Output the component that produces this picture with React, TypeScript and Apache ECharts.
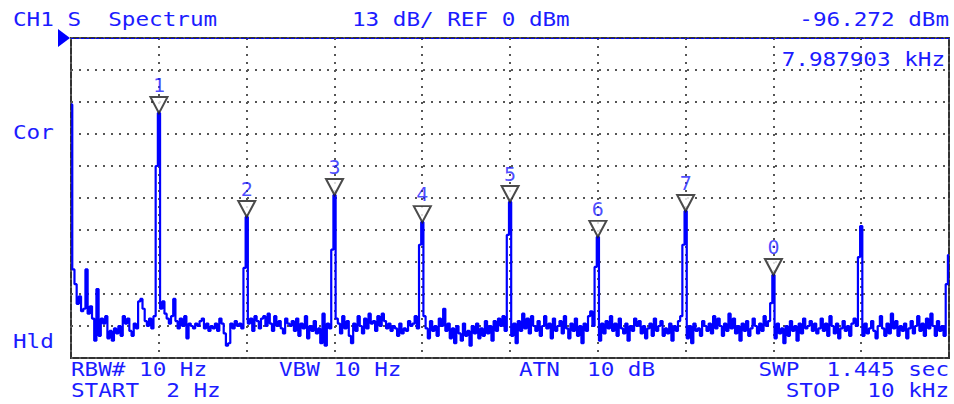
import React, { useEffect, useRef } from "react";
import * as echarts from "echarts";

// ---- Instrument settings ----
const startHz = 2;
const stopHz = 10000;
const refLevelDbm = 0;
const dbPerDiv = 13;
const divisions = 10;

// ---- Trace (401 points, noise floor, dBm) ----
const noiseDbm = [
  -27, -94, -100, -108, -105, -111, -110, -94, -112, -109, -114, -123, -102, -121, -114, -116, -113, -122, -119, -123,
  -118, -120, -117, -121, -113, -116, -114, -119, -121, -116, -118, -107, -106, -110, -115, -117, -114, -118, -113, -112,
  -114, -110, -107, -112, -114, -116, -113, -106, -115, -118, -114, -117, -113, -122, -116, -117, -118, -116, -117, -115,
  -114, -118, -116, -119, -117, -118, -116, -119, -114, -116, -120, -125, -124, -116, -118, -115, -117, -116, -118, -112,
  -117, -116, -114, -119, -113, -115, -118, -114, -113, -117, -112, -116, -119, -113, -117, -115, -118, -120, -114, -116,
  -117, -115, -119, -114, -121, -116, -118, -113, -122, -117, -119, -115, -120, -118, -124, -112, -125, -116, -118, -111,
  -117, -114, -116, -120, -113, -118, -115, -121, -124, -116, -119, -113, -117, -120, -114, -118, -112, -116, -115, -119,
  -113, -117, -112, -115, -118, -116, -119, -117, -118, -121, -116, -120, -118, -119, -115, -117, -116, -113, -118, -114,
  -116, -113, -118, -122, -115, -119, -117, -121, -114, -117, -110, -119, -116, -122, -118, -124, -117, -120, -123, -116,
  -121, -119, -125, -117, -120, -116, -122, -118, -121, -115, -120, -117, -123, -115, -119, -114, -117, -113, -119, -111,
  -116, -121, -116, -124, -115, -119, -112, -118, -114, -120, -113, -117, -119, -115, -121, -117, -113, -118, -116, -122,
  -114, -119, -117, -115, -120, -113, -118, -122, -116, -119, -114, -121, -117, -124, -116, -119, -113, -111, -117, -112,
  -118, -123, -116, -120, -115, -118, -113, -119, -116, -121, -114, -118, -120, -116, -123, -117, -119, -114, -117, -115,
  -120, -117, -122, -118, -116, -121, -114, -119, -117, -115, -121, -118, -120, -116, -123, -117, -119, -115, -113, -116,
  -118, -122, -117, -124, -116, -119, -118, -121, -115, -117, -119, -116, -120, -113, -118, -114, -117, -121, -116, -119,
  -112, -118, -114, -120, -117, -123, -116, -119, -115, -121, -118, -114, -117, -120, -116, -119, -113, -117, -115, -118,
  -117, -122, -116, -120, -118, -124, -117, -121, -115, -119, -117, -123, -116, -120, -114, -118, -117, -115, -119, -116,
  -120, -118, -114, -119, -116, -121, -113, -117, -120, -116, -122, -118, -115, -119, -117, -121, -116, -114, -117, -112,
  -117, -121, -116, -120, -118, -115, -119, -122, -117, -113, -118, -121, -116, -120, -112, -118, -115, -121, -117, -119,
  -116, -122, -118, -115, -120, -117, -113, -119, -116, -121, -114, -118, -112, -117, -121, -115, -119, -117, -121, -118,
  -117,
];

// ---- Harmonic lines ----
const harmonicHz = [1000, 2000, 3000, 4000, 5000, 6000, 7000, 8000, 9000, 10000];
const harmonicPeakDbm = [-30.5, -72.7, -63.8, -74.8, -66.6, -80.8, -70.3, -96.3, -76.4, -88.2];
const harmonicShoulderDbm = [-52, -93.4, -86, -84, -80, -93, -84, -107.7, -89, -100];

// ---- Markers (on the first eight harmonics) ----
const markerLabels = ["1", "2", "3", "4", "5", "6", "7", "0"];

// ---- Annotation texts ----
const headerLeft = "CH1 S  Spectrum";
const headerMid = "13 dB/ REF 0 dBm";
const headerRight = "-96.272 dBm";
const markerFreqText = "7.987903 kHz";
const sideTop = "Cor";
const sideBottom = "Hld";
const footRbw = "RBW# 10 Hz";
const footVbw = "VBW 10 Hz";
const footAtn = "ATN  10 dB";
const footSwp = "SWP  1.445 sec";
const footStart = "START  2 Hz";
const footStop = "STOP  10 kHz";

const BLUE_TEXT = "#1c1cff";
const TRACE = "#0000ff";
const FONT = "DejaVu Sans Mono";
const FS = 19;
const STRETCH = 1.19;

export default function App() {
  const ref = useRef<HTMLDivElement>(null);

  useEffect(() => {
    if (!ref.current) return;
    const chart = echarts.init(ref.current, undefined, { renderer: "svg" });

    const binHz = (stopHz - startHz) / (noiseDbm.length - 1);
    const trace: number[][] = noiseDbm.map((v, i) => [startHz + i * binHz, v]);
    const peakIdx = harmonicHz.map((f) => Math.round((f - startHz) / binHz));
    peakIdx.forEach((k, j) => {
      trace[k][1] = harmonicPeakDbm[j];
      if (k - 1 >= 0) trace[k - 1][1] = harmonicShoulderDbm[j];
    });

    const markerData = markerLabels.map((lab, j) => ({
      name: lab,
      value: [trace[peakIdx[j]][0], harmonicPeakDbm[j]],
    }));

    const txt = (text: string, x: number, y: number, align: string = "left") => ({
      type: "text",
      x,
      y,
      scaleX: STRETCH,
      silent: true,
      style: {
        text,
        fill: BLUE_TEXT,
        fontFamily: FONT,
        fontSize: FS,
        textAlign: align,
        textVerticalAlign: "middle",
      },
    });

    const bottomDbm = refLevelDbm - dbPerDiv * divisions;

    chart.setOption({
      animation: false,
      backgroundColor: "#ffffff",
      grid: {
        left: 71,
        top: 38,
        width: 878,
        height: 320,
        show: true,
        borderColor: "#333333",
        borderWidth: 2,
        backgroundColor: "transparent",
      },
      xAxis: {
        type: "value",
        min: 0,
        max: stopHz,
        interval: stopHz / divisions,
        axisLine: { show: false },
        axisTick: { show: false },
        axisLabel: { show: false },
        splitLine: {
          show: true,
          lineStyle: { color: "#555555", width: 2, type: [2, 6] },
        },
      },
      yAxis: {
        type: "value",
        min: bottomDbm,
        max: refLevelDbm,
        interval: dbPerDiv,
        axisLine: { show: false },
        axisTick: { show: false },
        axisLabel: { show: false },
        splitLine: {
          show: true,
          lineStyle: { color: "#555555", width: 2, type: [2, 6] },
        },
      },
      series: [
        {
          type: "line",
          data: trace,
          step: "middle",
          showSymbol: false,
          symbol: "none",
          lineStyle: { color: TRACE, width: 2.2 },
          z: 3,
          markLine: {
            silent: true,
            symbol: "none",
            label: { show: false },
            lineStyle: { color: TRACE, width: 1.2, type: [3, 2] },
            data: [{ yAxis: refLevelDbm }],
          },
        },
        {
          type: "scatter",
          data: markerData,
          symbol: "path://M0 0L18 0L9 16Z",
          symbolSize: [17, 16],
          symbolOffset: [0, "-50%"],
          itemStyle: { color: "#ffffff", borderColor: "#1e1e1e", borderWidth: 2 },
          label: {
            show: true,
            position: "top",
            distance: 1,
            formatter: "{b}",
            color: BLUE_TEXT,
            fontFamily: FONT,
            fontSize: 20,
          },
          z: 5,
        },
      ],
      graphic: [
        {
          type: "polygon",
          silent: true,
          shape: { points: [[58, 29], [70, 38], [58, 47]] },
          style: { fill: TRACE },
        },
        txt(headerLeft, 13, 20),
        txt(headerMid, 352, 20),
        txt(headerRight, 949, 20, "right"),
        txt(markerFreqText, 945, 60, "right"),
        txt(sideTop, 13, 133),
        txt(sideBottom, 13, 342),
        txt(footRbw, 71, 370),
        txt(footVbw, 279, 370),
        txt(footAtn, 519, 370),
        txt(footSwp, 949, 370, "right"),
        txt(footStart, 71, 391),
        txt(footStop, 949, 391, "right"),
      ],
    });

    return () => chart.dispose();
  }, []);

  return (
    <div
      ref={ref}
      style={{ position: "fixed", left: 0, top: 0, width: 954, height: 404, background: "#fff" }}
    />
  );
}
